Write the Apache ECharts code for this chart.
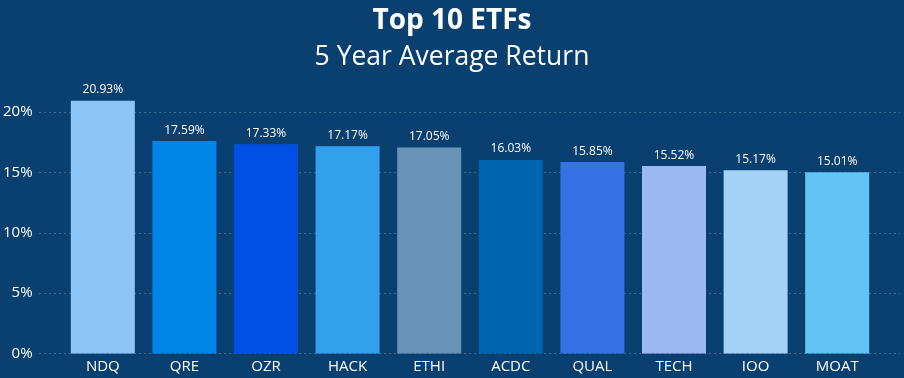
<!DOCTYPE html>
<html>
<head>
<meta charset="utf-8">
<script src="https://cdn.jsdelivr.net/npm/echarts@6/dist/echarts.min.js"></script>
<style>
  html, body { margin: 0; padding: 0; background: #0a4070; }
  #main { width: 904px; height: 378px; }
</style>
</head>
<body>
<div id="main"></div>
<script>
var etfNames = ['NDQ', 'QRE', 'OZR', 'HACK', 'ETHI', 'ACDC', 'QUAL', 'TECH', 'IOO', 'MOAT'];
var avgReturn = [20.93, 17.59, 17.33, 17.17, 17.05, 16.03, 15.85, 15.52, 15.17, 15.01];
var barColors = ['#8dc6f6', '#0086e8', '#0050e5', '#33a0ee', '#6893b8', '#0064ae', '#3572e6', '#9bb8f2', '#a3d2f7', '#63c3f5'];
var yTicks = [0, 20, 5]; // min, max, interval (percent)

var fontName = '"Open Sans", "Noto Sans", sans-serif';
var myChart = echarts.init(document.getElementById('main'));

var option = {
    backgroundColor: '#0a4070',
    textStyle: { fontFamily: fontName },
    title: [
        {
            text: 'Top 10 ETFs',
            left: 'center',
            top: 2,
            textStyle: { color: '#fff', fontSize: 28, fontWeight: 'bold', fontFamily: fontName }
        },
        {
            text: '5 Year Average Return',
            left: 'center',
            top: 39,
            textStyle: { color: '#fff', fontSize: 26.5, fontWeight: 'normal', fontFamily: fontName }
        }
    ],
    grid: [
        { left: 62, right: 26, top: 112, bottom: 24.5 },
        { left: 38, right: 4, top: 112, bottom: 24.5 }
    ],
    xAxis: [
        {
            type: 'category',
            gridIndex: 0,
            data: etfNames,
            axisLine: { show: false },
            axisTick: { show: false },
            axisLabel: { color: '#fff', fontSize: 15, margin: 6, fontFamily: fontName }
        },
        {
            type: 'category',
            gridIndex: 1,
            data: etfNames,
            show: false
        }
    ],
    yAxis: [
        {
            type: 'value',
            gridIndex: 0,
            min: yTicks[0],
            max: yTicks[1],
            interval: yTicks[2],
            show: false
        },
        {
            type: 'value',
            gridIndex: 1,
            min: yTicks[0],
            max: yTicks[1],
            interval: yTicks[2],
            axisLine: { show: false },
            axisTick: { show: false },
            axisLabel: { color: '#fff', fontSize: 15, margin: 7, formatter: '{value}%', fontFamily: fontName },
            splitLine: { lineStyle: { color: 'rgba(255,255,255,0.45)', type: [1, 4], width: 1 } }
        }
    ],
    series: [
        {
            name: '5 Year Average Return',
            type: 'bar',
            xAxisIndex: 0,
            yAxisIndex: 0,
            clip: false,
            barWidth: 64,
            data: avgReturn.map(function (v, i) {
                return { value: v, itemStyle: { color: barColors[i] } };
            }),
            label: {
                show: true,
                position: 'top',
                distance: 5,
                color: '#fff',
                fontSize: 12,
                fontFamily: fontName,
                formatter: function (p) { return p.value.toFixed(2) + '%'; }
            }
        }
    ]
};

myChart.setOption(option, true);
</script>
</body>
</html>
